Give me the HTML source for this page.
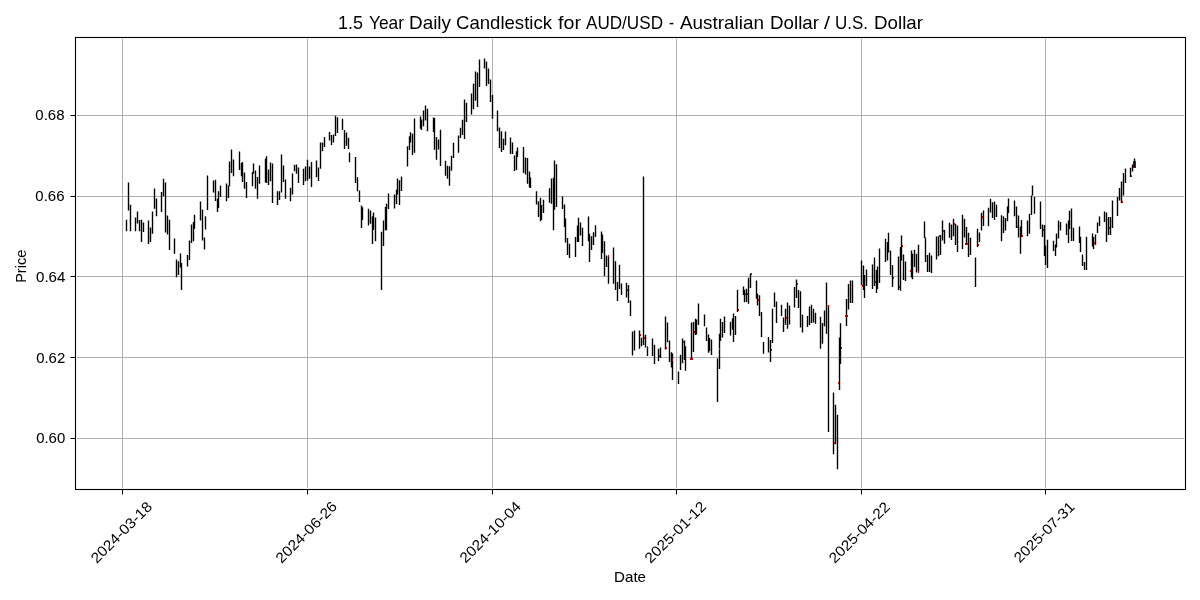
<!DOCTYPE html>
<html><head><meta charset="utf-8"><title>AUD/USD Candlestick</title><style>html,body{margin:0;padding:0;background:#fff;overflow:hidden}svg{display:block;will-change:transform}</style></head>
<body><svg width="1200" height="600" viewBox="0 0 1200 600">
<rect x="0" y="0" width="1200" height="600" fill="#fff"/>
<path d="M122 38h1v451h-1zM307 38h1v451h-1zM492 38h1v451h-1zM676 38h1v451h-1zM861 38h1v451h-1zM1045 38h1v451h-1zM76 115h1109v1h-1109zM76 196h1109v1h-1109zM76 276h1109v1h-1109zM76 357h1109v1h-1109zM76 438h1109v1h-1109z" fill="#b0b0b0"/>
<path d="M1133 161h3v7h-3z" fill="#c40000"/>
<path d="M126.5 219.75V231.25M128.5 182.50V210.60M130.5 204.75V231.25M135.5 217.50V231.25M137.5 211.50V223.50M139.5 220.00V231.25M141.5 219.75V242.00M143.5 222.50V231.90M148.5 220.60V244.00M150.5 227.50V242.00M152.5 211.50V233.75M154.5 188.50V208.75M156.5 198.50V216.25M161.5 191.90V211.90M163.5 178.75V196.25M165.5 182.50V232.50M167.5 215.60V234.40M169.5 219.75V250.00M174.5 238.60V253.75M176.5 259.40V277.25M178.5 261.25V275.00M180.5 253.50V267.50M181.5 263.00V290.00M187.5 255.00V266.50M189.5 240.60V260.00M191.5 224.40V243.00M193.5 221.90V241.25M194.5 214.75V228.75M200.5 201.50V220.60M202.5 209.60V240.60M204.5 237.50V249.40M205.5 216.25V229.40M207.5 175.60V210.00M213.5 180.60V192.50M215.5 179.75V201.00M217.5 198.75V211.90M218.5 191.25V208.00M220.5 185.60V196.90M226.5 183.50V201.25M228.5 185.60V198.10M229.5 161.50V186.25M231.5 149.40V173.10M233.5 159.40V176.25M239.5 151.50V170.00M241.5 163.10V176.25M242.5 161.90V181.90M244.5 172.50V188.75M246.5 181.90V198.10M252.5 171.90V186.25M253.5 163.50V173.75M255.5 170.60V188.75M257.5 176.90V198.75M259.5 165.60V183.75M265.5 158.75V182.50M266.5 156.25V183.10M268.5 169.40V185.00M270.5 162.50V181.25M272.5 163.50V203.10M277.5 191.25V205.00M279.5 191.25V200.00M281.5 154.40V192.50M283.5 165.60V181.90M285.5 179.40V198.75M290.5 187.75V201.25M292.5 173.50V194.40M294.5 164.75V171.25M296.5 164.40V173.75M298.5 167.50V183.10M303.5 168.75V185.00M305.5 166.50V181.25M307.5 159.75V180.60M309.5 166.50V178.75M311.5 161.90V186.90M316.5 160.60V177.25M318.5 167.50V181.00M320.5 142.50V168.75M322.5 142.50V151.25M324.5 136.90V146.90M329.5 131.90V140.60M331.5 135.00V145.00M333.5 134.40V142.50M335.5 115.70V135.90M337.5 117.30V133.10M342.5 118.70V129.90M344.5 129.90V149.00M346.5 132.60V145.70M348.5 137.80V149.00M349.5 152.60V162.25M355.5 156.90V183.10M357.5 177.25V191.25M359.5 190.60V202.10M361.5 205.60V228.10M362.5 207.25V220.00M368.5 208.75V225.60M370.5 210.60V223.75M372.5 216.25V244.00M373.5 212.50V230.00M375.5 217.50V241.25M381.5 231.75V290.10M383.5 220.60V246.00M385.5 206.90V230.60M386.5 203.75V230.00M388.5 193.50V209.00M394.5 194.40V208.50M396.5 189.75V204.00M397.5 178.50V194.40M399.5 180.25V205.00M401.5 176.50V191.00M407.5 146.25V166.50M409.5 136.25V150.00M410.5 132.25V142.50M412.5 133.75V155.00M414.5 118.50V152.75M420.5 116.50V128.75M421.5 119.40V130.00M423.5 110.60V126.25M425.5 105.60V120.60M427.5 108.75V131.25M433.5 117.50V131.90M434.5 118.10V149.75M436.5 136.90V159.80M438.5 139.40V149.40M440.5 129.75V166.00M445.5 160.80V175.80M447.5 165.80V178.75M449.5 166.25V185.80M451.5 155.80V170.80M453.5 142.70V158.00M458.5 135.60V152.80M460.5 127.75V138.10M462.5 119.75V135.00M464.5 99.60V139.00M466.5 102.70V121.90M471.5 93.50V114.40M473.5 83.80V109.20M475.5 71.50V100.80M477.5 72.50V107.00M479.5 59.50V87.00M484.5 58.50V68.50M486.5 61.50V86.00M488.5 68.50V84.00M490.5 79.50V102.00M492.5 95.00V118.75M497.5 110.60V131.25M499.5 127.50V148.10M501.5 131.25V151.90M503.5 138.75V150.00M505.5 131.50V145.25M510.5 137.50V154.00M512.5 142.50V154.00M514.5 155.60V170.90M516.5 151.25V170.00M517.5 147.50V156.90M523.5 146.90V173.10M525.5 157.50V174.40M527.5 158.10V183.75M529.5 171.50V187.50M530.5 177.50V188.10M536.5 191.25V204.40M538.5 201.25V216.90M540.5 197.75V221.25M541.5 205.00V220.00M543.5 199.75V213.10M549.5 188.20V202.70M551.5 178.50V203.70M553.5 177.70V230.30M554.5 160.40V209.70M556.5 164.30V207.00M562.5 196.40V209.00M564.5 204.50V227.00M565.5 218.40V242.50M567.5 238.10V255.00M569.5 243.75V258.10M575.5 236.90V256.90M577.5 225.60V241.90M578.5 217.75V241.90M580.5 222.50V235.60M582.5 227.75V246.00M588.5 216.50V241.25M589.5 233.75V261.90M591.5 236.25V250.00M593.5 232.25V245.00M595.5 225.25V236.90M601.5 231.50V259.00M602.5 234.40V253.10M604.5 241.25V276.25M606.5 255.60V266.90M608.5 256.25V283.75M613.5 247.50V283.75M615.5 261.25V290.00M617.5 281.90V301.00M619.5 264.75V289.00M621.5 283.50V295.00M626.5 282.75V297.50M628.5 285.00V303.10M630.5 300.60V316.00M632.5 331.50V355.60M634.5 330.60V350.60M639.5 330.60V348.75M641.5 337.75V346.25M643.5 176.50V345.00M645.5 334.75V347.50M647.5 346.90V356.00M652.5 338.50V356.00M654.5 344.75V364.00M658.5 348.75V361.00M660.5 347.50V358.10M665.5 316.50V349.40M667.5 322.50V342.25M669.5 340.60V361.90M671.5 352.25V367.50M672.5 353.60V380.00M678.5 371.40V384.00M680.5 354.75V370.00M682.5 338.50V363.30M684.5 340.60V360.00M685.5 346.25V370.80M691.5 322.50V358.90M693.5 321.90V351.90M695.5 318.75V335.00M696.5 319.40V334.40M698.5 303.50V325.00M704.5 314.60V326.25M706.5 327.50V341.00M708.5 334.40V352.70M709.5 338.10V351.25M711.5 339.40V355.00M717.5 358.60V402.00M719.5 333.75V369.00M720.5 318.75V341.00M722.5 321.90V337.50M724.5 316.50V333.10M730.5 321.70V335.60M732.5 318.50V329.75M733.5 313.60V341.90M735.5 316.00V335.00M737.5 289.75V311.90M743.5 286.50V295.00M744.5 289.75V302.25M746.5 288.75V302.00M748.5 277.75V303.75M750.5 273.50V288.10M756.5 280.60V298.75M757.5 293.75V305.60M759.5 295.25V316.00M761.5 311.90V336.90M763.5 341.90V353.75M768.5 336.90V352.50M770.5 340.00V361.90M772.5 308.75V343.10M774.5 292.50V306.90M776.5 301.50V323.00M781.5 304.75V316.00M783.5 317.50V331.90M785.5 308.75V325.00M787.5 302.50V328.75M789.5 305.60V324.40M794.5 286.90V307.50M796.5 279.40V298.10M798.5 290.00V308.00M800.5 291.25V327.50M802.5 314.75V332.50M807.5 316.00V326.90M809.5 306.50V325.00M811.5 304.75V323.00M813.5 308.75V322.50M815.5 312.75V323.75M820.5 316.70V348.75M822.5 323.10V343.75M824.5 310.60V326.25M826.5 282.50V333.75M828.5 305.00V432.00M833.5 392.50V454.20M835.5 404.70V444.20M837.5 414.70V469.20M839.5 337.50V390.00M840.5 323.30V364.00M846.5 299.00V326.00M848.5 284.00V309.40M850.5 280.50V303.00M852.5 280.50V303.00M861.5 260.50V285.00M863.5 265.50V290.00M864.5 275.00V298.00M866.5 269.50V286.00M872.5 264.50V289.00M874.5 257.50V286.00M876.5 270.00V293.00M877.5 266.50V289.00M879.5 248.50V283.00M885.5 238.75V261.90M887.5 241.90V260.60M888.5 232.75V252.50M890.5 250.60V274.90M892.5 265.00V287.10M898.5 256.60V289.90M900.5 246.90V290.80M901.5 235.60V260.60M903.5 254.40V280.00M905.5 261.50V281.00M911.5 250.60V277.50M912.5 253.75V279.30M914.5 249.75V266.90M916.5 253.75V272.50M918.5 244.75V272.50M924.5 221.50V238.10M925.5 237.50V261.90M927.5 255.00V271.90M929.5 252.75V271.90M931.5 255.60V273.10M936.5 236.50V259.40M938.5 236.25V256.25M940.5 235.00V255.00M942.5 220.60V240.60M944.5 230.00V243.75M949.5 222.75V237.75M951.5 224.40V240.00M953.5 218.75V236.25M955.5 223.75V245.00M957.5 225.60V251.90M962.5 214.75V249.00M964.5 218.75V237.50M966.5 226.90V244.40M968.5 232.75V256.90M970.5 237.75V255.00M975.5 257.60V287.10M977.5 228.75V246.90M979.5 232.50V241.90M981.5 212.75V230.60M983.5 210.60V226.00M988.5 207.75V226.25M990.5 198.75V212.50M992.5 202.25V218.10M994.5 201.50V220.00M996.5 204.75V216.90M1001.5 215.25V241.25M1003.5 216.25V233.10M1005.5 218.10V230.60M1007.5 206.50V221.25M1008.5 198.50V213.10M1014.5 200.60V216.25M1016.5 206.50V228.10M1018.5 215.60V237.50M1020.5 226.50V253.75M1021.5 220.00V236.90M1027.5 220.60V236.25M1029.5 213.75V233.75M1031.5 195.60V215.00M1032.5 185.60V195.60M1034.5 196.90V213.75M1040.5 201.50V228.90M1042.5 224.40V237.00M1044.5 225.00V256.00M1045.5 245.50V265.00M1047.5 239.80V268.00M1053.5 240.70V251.00M1055.5 244.50V256.00M1056.5 233.60V247.50M1058.5 220.60V238.60M1060.5 221.90V230.60M1066.5 223.60V235.00M1068.5 220.50V243.00M1069.5 210.80V229.00M1071.5 208.50V241.10M1073.5 227.70V241.00M1079.5 226.50V243.00M1080.5 236.80V252.00M1082.5 254.50V266.00M1084.5 262.00V270.00M1086.5 236.70V270.00M1092.5 233.60V246.50M1093.5 237.00V249.00M1095.5 234.50V245.00M1097.5 222.50V233.00M1099.5 216.50V226.00M1104.5 211.50V222.00M1106.5 212.50V242.00M1108.5 217.00V235.00M1110.5 217.00V235.00M1112.5 200.50V228.00M1117.5 197.00V216.00M1119.5 188.00V200.50M1121.5 181.50V203.00M1123.5 173.00V195.50M1125.5 168.50V183.00M1130.5 167.80V177.00M1132.5 164.50V171.50M1134.5 158.50V167.50" stroke="#000" stroke-width="1.39" fill="none"/>
<path d="M608 255h1v2h-1zM627 289h1v2h-1zM640 334h1v2h-1zM644 337h1v2h-1zM647 346h1v2h-1zM659 355h1v2h-1zM666 347h1v2h-1zM672 359h1v2h-1zM683 341h1v2h-1zM694 331h1v2h-1zM719 348h1v2h-1zM738 309h1v2h-1zM745 293h1v2h-1zM747 293h1v2h-1zM751 273h1v2h-1zM758 299h1v2h-1zM771 349h1v2h-1zM785 323h1v2h-1zM786 317h1v2h-1zM797 283h1v2h-1zM828 305h1v2h-1zM834 442h1v2h-1zM838 382h1v2h-1zM841 347h1v2h-1zM862 285h1v2h-1zM875 281h1v2h-1zM893 277h1v2h-1zM899 286h1v2h-1zM902 245h1v2h-1zM910 270h1v2h-1zM918 271h1v2h-1zM939 235h1v2h-1zM943 230h1v2h-1zM954 223h1v2h-1zM978 244h1v2h-1zM982 216h1v2h-1zM1017 226h1v2h-1zM1022 235h1v2h-1zM1043 229h1v2h-1zM1094 242h1v2h-1zM1109 227h1v2h-1zM1122 201h1v2h-1zM1131 175h1v2h-1zM690 358h3v2h-3zM845 315h3v2h-3zM965 243h3v2h-3z" fill="#c40000"/>
<path d="M74 36h1113v1h-1113zM74 38h1113v1h-1113zM74 488h1113v1h-1113zM74 490h1113v1h-1113zM74 36h1v455h-1zM76 36h1v455h-1zM1184 36h1v455h-1zM1186 36h1v455h-1z" fill="#f1f1f1"/>
<path d="M75 37h1111v1h-1111zM75 489h1111v1h-1111zM75 37h1v453h-1zM1185 37h1v453h-1z" fill="#000"/>
<path d="M122 490h1v4h-1zM307 490h1v4h-1zM492 490h1v4h-1zM676 490h1v4h-1zM861 490h1v4h-1zM1045 490h1v4h-1zM71 115h4v1h-4zM71 196h4v1h-4zM71 276h4v1h-4zM71 357h4v1h-4zM71 438h4v1h-4z" fill="#000"/>
<path d="M122 494h1v1h-1zM307 494h1v1h-1zM492 494h1v1h-1zM676 494h1v1h-1zM861 494h1v1h-1zM1045 494h1v1h-1zM70 115h1v1h-1zM70 196h1v1h-1zM70 276h1v1h-1zM70 357h1v1h-1zM70 438h1v1h-1z" fill="#7f7f7f"/>
<text x="65.26" y="443.21" font-family="Liberation Sans, sans-serif" font-size="14.50" text-anchor="end" textLength="29.10" lengthAdjust="spacingAndGlyphs" stroke="#000" stroke-width="0.05">0.60</text>
<text x="65.21" y="363.21" font-family="Liberation Sans, sans-serif" font-size="14.50" text-anchor="end" textLength="29.02" lengthAdjust="spacingAndGlyphs" stroke="#000" stroke-width="0.05">0.62</text>
<text x="65.34" y="281.83" font-family="Liberation Sans, sans-serif" font-size="14.50" text-anchor="end" textLength="29.27" lengthAdjust="spacingAndGlyphs" stroke="#000" stroke-width="0.05">0.64</text>
<text x="64.49" y="201.23" font-family="Liberation Sans, sans-serif" font-size="14.50" text-anchor="end" textLength="29.18" lengthAdjust="spacingAndGlyphs" stroke="#000" stroke-width="0.05">0.66</text>
<text x="64.47" y="119.97" font-family="Liberation Sans, sans-serif" font-size="14.50" text-anchor="end" textLength="29.14" lengthAdjust="spacingAndGlyphs" stroke="#000" stroke-width="0.05">0.68</text>
<text transform="translate(121.33,532.25) rotate(-45)" x="0" y="5.00" font-family="Liberation Sans, sans-serif" font-size="14.50" text-anchor="middle" textLength="79.60" lengthAdjust="spacingAndGlyphs">2024-03-18</text>
<text transform="translate(306.22,532.10) rotate(-45)" x="0" y="5.00" font-family="Liberation Sans, sans-serif" font-size="14.50" text-anchor="middle" textLength="79.91" lengthAdjust="spacingAndGlyphs">2024-06-26</text>
<text transform="translate(490.21,532.10) rotate(-45)" x="0" y="5.00" font-family="Liberation Sans, sans-serif" font-size="14.50" text-anchor="middle" textLength="79.79" lengthAdjust="spacingAndGlyphs">2024-10-04</text>
<text transform="translate(675.24,532.10) rotate(-45)" x="0" y="5.00" font-family="Liberation Sans, sans-serif" font-size="14.50" text-anchor="middle" textLength="79.89" lengthAdjust="spacingAndGlyphs">2025-01-12</text>
<text transform="translate(859.20,532.34) rotate(-45)" x="0" y="5.00" font-family="Liberation Sans, sans-serif" font-size="14.50" text-anchor="middle" textLength="79.29" lengthAdjust="spacingAndGlyphs">2025-04-22</text>
<text transform="translate(1044.10,532.10) rotate(-45)" x="0" y="5.00" font-family="Liberation Sans, sans-serif" font-size="14.50" text-anchor="middle" textLength="78.83" lengthAdjust="spacingAndGlyphs">2025-07-31</text>
<text x="630.05" y="582.07" font-family="Liberation Sans, sans-serif" font-size="14.50" text-anchor="middle" textLength="31.94" lengthAdjust="spacingAndGlyphs" stroke="#000" stroke-width="0.05">Date</text>
<text transform="translate(26.16,266.27) rotate(-90)" x="0" y="0.00" font-family="Liberation Sans, sans-serif" font-size="14.50" text-anchor="middle" textLength="33.17" lengthAdjust="spacingAndGlyphs">Price</text>
<g font-family="Liberation Sans, sans-serif" font-size="18.2"><text x="338.0" y="29.24" textLength="25.0" lengthAdjust="spacingAndGlyphs">1.5</text><text x="369.0" y="29.24" textLength="35.0" lengthAdjust="spacingAndGlyphs">Year</text><text x="409.0" y="29.24" textLength="42.0" lengthAdjust="spacingAndGlyphs">Daily</text><text x="456.0" y="29.24" textLength="96.0" lengthAdjust="spacingAndGlyphs">Candlestick</text><text x="558.0" y="29.24" textLength="23.0" lengthAdjust="spacingAndGlyphs">for</text><text x="586.0" y="29.24" textLength="77.0" lengthAdjust="spacingAndGlyphs">AUD/USD</text><text x="669.0" y="29.24" textLength="5.0" lengthAdjust="spacingAndGlyphs">-</text><text x="680.0" y="29.24" textLength="84.0" lengthAdjust="spacingAndGlyphs">Australian</text><text x="770.0" y="29.24" textLength="49.0" lengthAdjust="spacingAndGlyphs">Dollar</text><text x="824.0" y="29.24" textLength="6.0" lengthAdjust="spacingAndGlyphs">/</text><text x="835.0" y="29.24" textLength="33.0" lengthAdjust="spacingAndGlyphs">U.S.</text><text x="874.0" y="29.24" textLength="49.0" lengthAdjust="spacingAndGlyphs">Dollar</text></g>
</svg></body></html>
